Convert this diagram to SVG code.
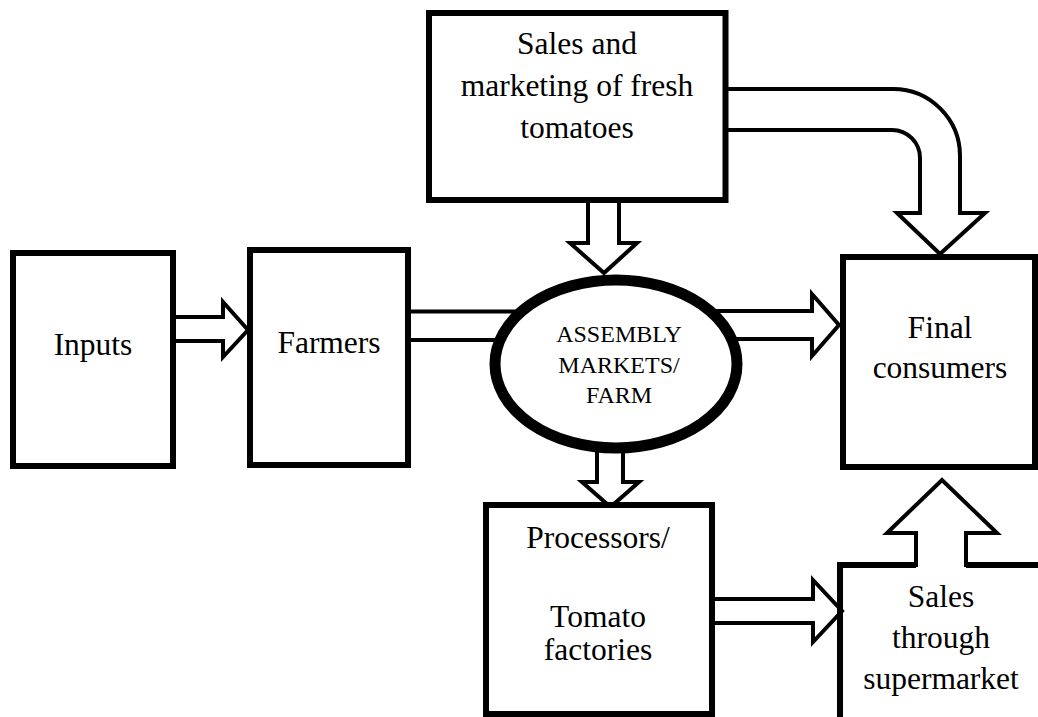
<svg xmlns="http://www.w3.org/2000/svg" width="1038" height="717" viewBox="0 0 1038 717">
<style>
.box{fill:#fff;stroke:#000;stroke-width:6}
.arr{fill:#fff;stroke:#000;stroke-width:4;stroke-linejoin:miter}
.t{font-family:"Liberation Serif","Times New Roman",serif;font-size:31.5px;fill:#000;text-anchor:middle}
.s{font-family:"Liberation Serif","Times New Roman",serif;font-size:24px;fill:#000;text-anchor:middle}
</style>
<rect width="1038" height="717" fill="#fff"/>
<g id="connectors">
<polygon class="arr" points="173,317 223,317 223,302 248,330 223,357 223,341 173,341"/>
<polygon class="arr" points="409,311.5 540,311.5 540,340 409,340"/>
<polygon class="arr" points="588,200 588,243 570,243 604,273 637,243 619,243 619,200"/>
<path class="arr" d="M725,89 H893 A67,67 0 0 1 960,156 V213 H985 L940,254 L897,213 H920 V158 A28,28 0 0 0 892,130 H725 Z"/>
<polygon class="arr" points="700,311 812,311 812,294 839,325 812,356 812,339 700,339"/>
<polygon class="arr" points="597,420 597,482 582,482 610.5,507 639,482 623,482 623,420"/>
<polygon class="arr" points="712,599 813,599 813,580 842,611 813,642 813,623 712,623"/>
<polyline class="arr" points="916,567 916,533 887,533 942,480 997,533 966,533 966,567" stroke-width="5"/>
</g>
<g id="inputs">
<rect class="box" x="13" y="253" width="160" height="213"/>
<text class="t" x="93" y="355">Inputs</text>
</g>
<g id="farmers">
<rect class="box" x="250" y="250" width="158" height="215"/>
<text class="t" x="329" y="353">Farmers</text>
</g>
<g id="sales-marketing">
<rect class="box" x="429" y="13" width="296.5" height="187"/>
<text class="t" x="577" y="54">Sales and</text>
<text class="t" x="577" y="96">marketing of fresh</text>
<text class="t" x="577" y="138">tomatoes</text>
</g>
<g id="assembly">
<ellipse cx="616" cy="364" rx="121" ry="84" fill="#fff" stroke="#000" stroke-width="11"/>
<text class="s" x="619" y="342">ASSEMBLY</text>
<text class="s" x="619" y="373">MARKETS/</text>
<text class="s" x="619" y="403">FARM</text>
</g>
<g id="final-consumers">
<rect class="box" x="843" y="257" width="192" height="210"/>
<text class="t" x="940" y="338">Final</text>
<text class="t" x="940" y="378">consumers</text>
</g>
<g id="processors">
<rect class="box" x="486" y="505" width="226" height="209"/>
<text class="t" x="598" y="548">Processors/</text>
<text class="t" x="598" y="627">Tomato</text>
<text class="t" x="598" y="660">factories</text>
</g>
<g id="supermarket">
<path d="M840,717 V565 H916 M966,565 H1038" fill="none" stroke="#000" stroke-width="6"/>
<text class="t" x="941" y="607">Sales</text>
<text class="t" x="941" y="648">through</text>
<text class="t" x="941" y="689">supermarket</text>
</g>
</svg>
